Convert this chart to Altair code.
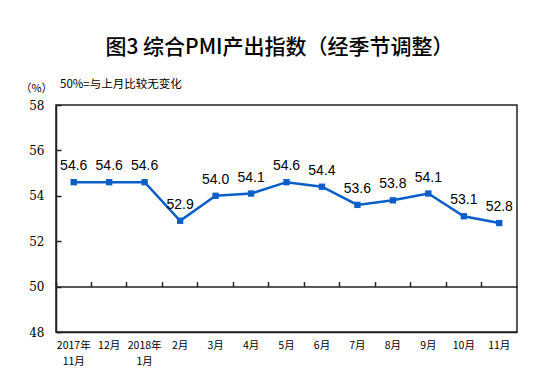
import altair as alt
import pandas as pd

months = ["2017年\n11月", "12月", "2018年\n1月", "2月", "3月", "4月", "5月",
          "6月", "7月", "8月", "9月", "10月", "11月"]
values = [54.6, 54.6, 54.6, 52.9, 54.0, 54.1, 54.6, 54.4, 53.6, 53.8, 54.1, 53.1, 52.8]
y_ticks = [48, 50, 52, 54, 56, 58]
title_text = "图3 综合PMI产出指数（经季节调整）"
unit_text = "（%）"
note_text = "50%=与上月比较无变化"

BLUE = "#0A5EC8"
DARK = "#222222"
CJK = "Noto Sans CJK SC"
W, H = 461, 227

df = pd.DataFrame({"month": months, "value": values,
                   "label": [f"{v:.1f}" for v in values]})

xscale = alt.Scale(type="band", domain=months, paddingInner=0, paddingOuter=0)
yscale = alt.Scale(domain=[48, 58], nice=False, zero=False)

base = alt.Chart(df)

line = base.mark_line(color=BLUE, strokeWidth=2.5).encode(
    x=alt.X("month:N", sort=None, scale=xscale,
            axis=alt.Axis(title=None, labelExpr="split(datum.label, '\\n')[0]",
                          ticks=False, labelAngle=0, labelFont=CJK, labelFontSize=10.5,
                          labelColor="black", labelPadding=8,
                          domainColor=DARK, domainWidth=1.5, labelBaseline="top")),
    y=alt.Y("value:Q", scale=yscale,
            axis=alt.Axis(values=y_ticks, title=unit_text, titleAngle=0, titleX=-20,
                          titleY=-17, titleAlign="center", titleBaseline="middle",
                          titleFont=CJK, titleFontSize=11, titleFontWeight="normal",
                          titleColor="black", ticks=False, grid=False,
                          labelFont="DejaVu Serif", labelFontSize=12,
                          labelColor="black", labelPadding=12,
                          domainColor=DARK, domainWidth=1.5)),
)

points = base.mark_square(color=BLUE, size=40, opacity=1).encode(
    x=alt.X("month:N", sort=None, scale=xscale,
            axis=alt.Axis(orient="top", offset=-H * 0.8, bandPosition=0, labels=False,
                          title=None, tickSize=5, tickColor=DARK, tickWidth=1.5,
                          domainColor=DARK, domainWidth=1.5)),
    y=alt.Y("value:Q", scale=yscale,
            axis=alt.Axis(orient="right", offset=-W, values=y_ticks, labels=False,
                          title=None, grid=False, domain=False, tickSize=5,
                          tickColor=DARK, tickWidth=1.5)),
)

labels = base.mark_text(font="Liberation Sans", fontSize=14, color="black",
                        baseline="bottom", dy=-9).encode(
    x=alt.X("month:N", sort=None, scale=xscale,
            axis=alt.Axis(orient="bottom", title=None,
                          labelExpr="length(split(datum.label, '\\n')) > 1 ? split(datum.label, '\\n')[1] : ''",
                          ticks=False, domain=False, labelAngle=0, labelFont=CJK,
                          labelFontSize=10.5, labelColor="black", labelPadding=24,
                          labelBaseline="top")),
    y=alt.Y("value:Q", scale=yscale, axis=None),
    text="label:N",
)

note = alt.Chart(pd.DataFrame({"t": [note_text]})).mark_text(
    font=CJK, fontSize=11.5, color="black", align="left", baseline="middle"
).encode(text="t:N", x=alt.value(4), y=alt.value(-20))

chart = alt.layer(line, points, labels, note).resolve_axis(
    x="independent", y="independent"
).properties(
    width=W, height=H,
    title=alt.TitleParams(title_text, font=CJK, fontSize=21, fontWeight=500,
                          color="black", anchor="middle", dx=-7, offset=21),
    padding={"left": 48, "top": 97, "right": 15, "bottom": 40},
    autosize=alt.AutoSizeParams(type="none"),
).configure_view(stroke=DARK, strokeWidth=1.5)

chart.save("out.html", embed_options={"renderer": "svg", "actions": False})
